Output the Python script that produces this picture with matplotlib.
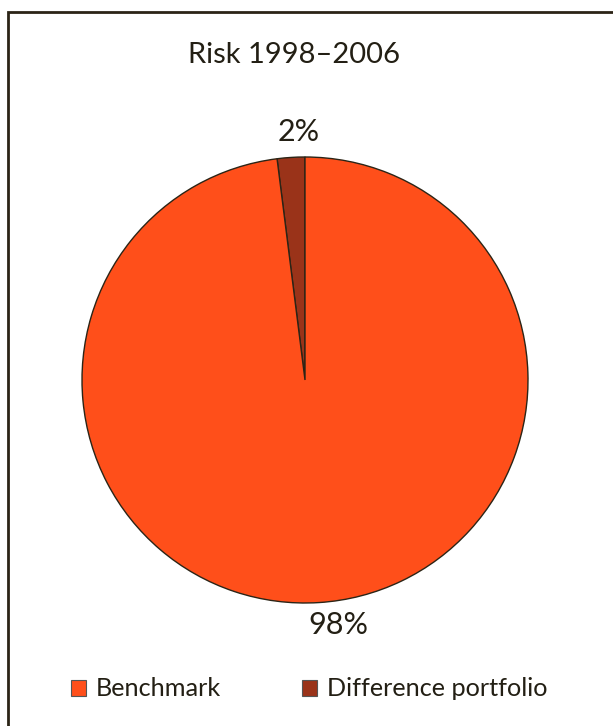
import matplotlib
matplotlib.use("Agg")
import matplotlib.pyplot as plt
from matplotlib.patches import Rectangle, Patch

labels = ["Difference portfolio", "Benchmark"]
values = [2, 98]
pct_labels = ["2%", "98%"]
colors = ["#9A3319", "#FF4F1A"]
title = "Risk 1998\u20132006"

W, H = 613, 726
fig = plt.figure(figsize=(W / 100, H / 100), dpi=100)
plt.rcParams['font.family'] = ['Lato', 'DejaVu Sans']
txtcol = "#231f14"

# frame
fig.patches.append(Rectangle((8 / W, -0.1), 1.2, (H - 12) / H + 0.1, transform=fig.transFigure,
                             fill=False, edgecolor="#2b2416", linewidth=2))

cx, cy, r = 305, 380, 223
ax = fig.add_axes([(cx - r) / W, (H - cy - r) / H, 2 * r / W, 2 * r / H])
wedges, _ = ax.pie(values, colors=colors, startangle=90, counterclock=True,
                   wedgeprops=dict(edgecolor="#2b2416", linewidth=1.0))
ax.set_xlim(-1, 1)
ax.set_ylim(-1, 1)
ax.set_aspect('equal')
ax.axis('off')

ax.text(-0.03, 1.11, pct_labels[0], ha='center', va='center', fontsize=22, color=txtcol, clip_on=False)
ax.text(0.15, -1.10, pct_labels[1], ha='center', va='center', fontsize=22, color=txtcol, clip_on=False)

fig.text(294 / W, 1 - 55 / H, title, ha='center', va='center', fontsize=21, color=txtcol)

# legend
handles = [Patch(facecolor=colors[1], edgecolor="#555555", linewidth=0.8, label=labels[1]),
           Patch(facecolor=colors[0], edgecolor="#555555", linewidth=0.8, label=labels[0])]
fig.legend(handles=handles, loc='center left', bbox_to_anchor=(48 / W, 1 - 689 / H),
           ncol=2, frameon=False, fontsize=18.2, handlelength=0.6, handleheight=0.6,
           handletextpad=0.4, columnspacing=3.2, labelcolor=txtcol)

fig.savefig("out.png", dpi=100, facecolor="white")
